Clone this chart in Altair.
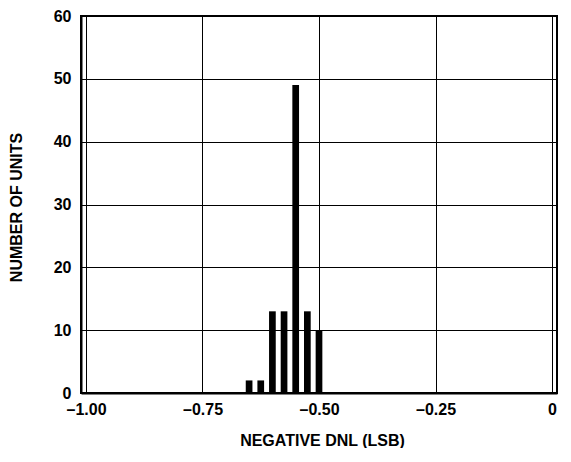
import altair as alt
import pandas as pd

# Histogram bins (centre of bin, LSB) and counts
dnl_centers = [-0.65, -0.625, -0.6, -0.575, -0.55, -0.525, -0.5]
unit_counts = [2, 2, 13, 13, 49, 13, 10]

x_ticks = [-1.0, -0.75, -0.5, -0.25, 0.0]
x_tick_labels = ["–1.00", "–0.75", "–0.50", "–0.25", "0"]
y_ticks = [0, 10, 20, 30, 40, 50, 60]

df = pd.DataFrame({"dnl": dnl_centers, "units": unit_counts})

label_expr = " : ".join(
    f"datum.value == {v} ? '{l}'" for v, l in zip(x_ticks, x_tick_labels)
) + " : ''"

FONT = "Liberation Sans"

chart = (
    alt.Chart(df)
    .mark_bar(color="black", width=6.7)
    .encode(
        x=alt.X(
            "dnl:Q",
            scale=alt.Scale(domain=[-1, 0], nice=False, zero=False),
            axis=alt.Axis(
                values=x_ticks,
                labelExpr=label_expr,
                title="NEGATIVE DNL (LSB)",
                titleX=241,
                titleY=52,
                titleBaseline="alphabetic",
                labelPadding=8,
                labelFlush=False,
            ),
        ),
        y=alt.Y(
            "units:Q",
            scale=alt.Scale(domain=[0, 60], nice=False),
            axis=alt.Axis(
                values=y_ticks,
                title="NUMBER OF UNITS",
                titleX=-60,
                titleY=191,
                titleAngle=270,
                titleBaseline="alphabetic",
                titleAlign="center",
                labelPadding=10,
            ),
        ),
    )
    .properties(
        width=476,
        height=377,
        autosize=alt.AutoSizeParams(type="none"),
        padding={"left": 73, "top": 8, "right": 6, "bottom": 55},
        background="white",
    )
    .configure_view(stroke="black", strokeWidth=2)
    .configure_axis(
        grid=True,
        gridColor="black",
        gridWidth=1,
        gridOpacity=1,
        domain=True,
        domainColor="black",
        domainWidth=2,
        ticks=False,
        tickSize=0,
        labelFont=FONT,
        labelFontSize=16,
        labelFontWeight="bold",
        labelColor="black",
        titleFont=FONT,
        titleFontSize=16,
        titleFontWeight="bold",
        titleColor="black",
    )
)

chart.save("out.html", embed_options={"renderer": "svg", "actions": False})
